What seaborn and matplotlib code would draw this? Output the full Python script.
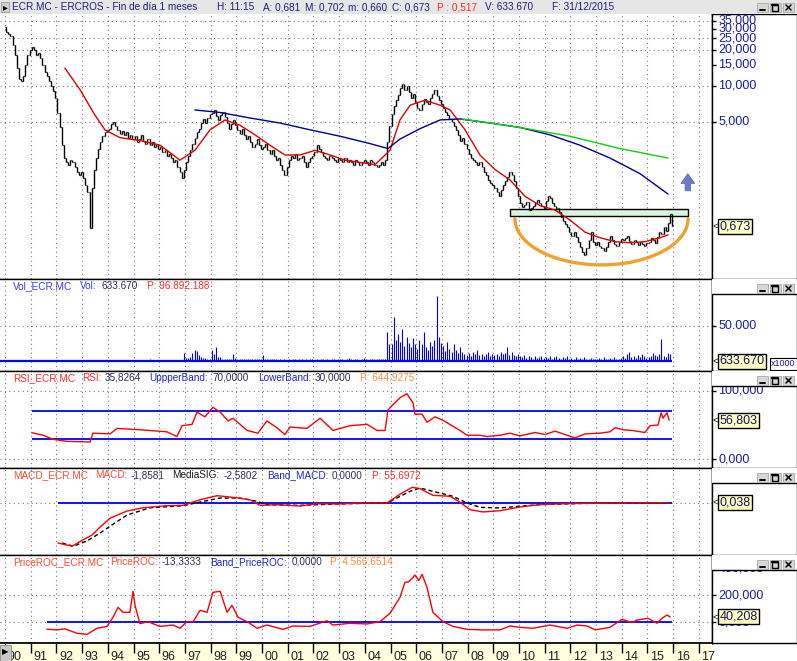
import matplotlib
matplotlib.use("Agg")
import matplotlib.pyplot as plt
from matplotlib.patches import Rectangle
import numpy as np
import seaborn as sns

# ---------------- values ----------------
years_axis = list(range(1990, 2018))
year_labels = [f"{y % 100:02d}" for y in years_axis]

first_open = 31.0
monthly_close = [
    28, 27, 26, 22, 18, 14, 11.5, 11, 12, 15, 18, 20,            # 1990
    21, 20, 18, 19, 17, 15, 13, 12, 11, 10, 9, 8,                # 1991
    6.0, 4.5, 3.2, 2.5, 2.3, 2.2, 2.4, 2.3, 2.1, 1.9, 1.8, 1.9,  # 1992
    1.7, 1.5, 1.3, 0.65, 1.4, 2.0, 2.5, 3.0, 3.4, 3.8, 4.1, 4.3, # 1993
    4.4, 4.8, 5.0, 4.6, 4.3, 4.0, 4.2, 3.9, 4.1, 3.7, 3.9, 3.6,  # 1994
    3.8, 3.4, 3.6, 3.9, 3.5, 3.3, 3.6, 3.2, 3.4, 3.1, 3.3, 3.0,  # 1995
    3.1, 2.8, 2.9, 2.6, 2.7, 2.5, 2.3, 2.4, 2.1, 1.9, 1.7, 2.0,  # 1996
    2.3, 2.6, 2.9, 3.3, 3.7, 4.1, 4.4, 4.9, 5.3, 4.9, 5.4, 5.8,  # 1997
    6.0, 6.3, 5.6, 5.2, 5.7, 6.1, 5.5, 4.9, 4.4, 4.8, 5.2, 4.7,  # 1998
    4.3, 4.0, 4.4, 3.9, 3.6, 3.8, 3.4, 3.1, 3.3, 3.6, 3.2, 3.0,  # 1999
    3.1, 3.3, 2.9, 2.7, 2.9, 2.6, 2.4, 2.5, 2.2, 2.0, 1.8, 2.1,  # 2000
    2.4, 2.6, 2.5, 2.7, 2.4, 2.5, 2.6, 2.3, 2.1, 2.3, 2.5, 2.6,  # 2001
    2.8, 3.2, 3.0, 2.8, 2.6, 2.5, 2.4, 2.6, 2.5, 2.4, 2.3, 2.5,  # 2002
    2.4, 2.3, 2.5, 2.3, 2.4, 2.3, 2.2, 2.4, 2.3, 2.2, 2.3, 2.4,  # 2003
    2.3, 2.2, 2.4, 2.3, 2.2, 2.1, 2.2, 2.3, 2.2, 2.4, 3.4, 4.6,  # 2004
    5.8, 6.8, 7.6, 8.4, 9.6, 10.4, 9.2, 9.9, 8.9, 8.0, 8.6, 7.4, # 2005
    6.6, 6.3, 7.0, 7.8, 7.4, 7.0, 7.9, 8.6, 9.2, 8.3, 7.7, 7.0,  # 2006
    6.6, 6.1, 5.7, 5.3, 5.0, 4.6, 4.3, 3.9, 3.5, 3.7, 3.3, 3.0,  # 2007
    2.7, 2.5, 2.4, 2.3, 2.2, 2.3, 2.1, 1.9, 1.8, 1.65, 1.55, 1.5,  # 2008
    1.4, 1.3, 1.2, 1.35, 1.5, 1.6, 1.75, 1.9, 1.8, 1.6, 1.4, 1.2,  # 2009
    1.05, 0.98, 1.02, 1.08, 0.92, 0.96, 1.0, 1.06, 1.12, 1.05, 1.0, 0.95,  # 2010
    1.1, 1.2, 1.15, 1.05, 1.0, 0.95, 0.88, 0.8, 0.74, 0.7, 0.66, 0.6,      # 2011
    0.56, 0.6, 0.55, 0.5, 0.45, 0.41, 0.39, 0.44, 0.52, 0.6, 0.5, 0.47,    # 2012
    0.5, 0.46, 0.44, 0.42, 0.45, 0.5, 0.56, 0.52, 0.48, 0.46, 0.5, 0.53,   # 2013
    0.52, 0.54, 0.56, 0.51, 0.48, 0.52, 0.5, 0.47, 0.5, 0.48, 0.46, 0.49,  # 2014
    0.5, 0.54, 0.52, 0.49, 0.55, 0.6, 0.58, 0.66, 0.62, 0.72, 0.86, 0.673, # 2015
]

# monthly volume, axis units (x1000)
monthly_volume = [
    0.5, 0.3, 0.4, 0.3, 0.2, 0.4, 0.3, 0.3, 0.2, 0.4, 0.5, 0.3,
    2.0, 1.8, 0.3, 0.2, 0.2, 0.3, 0.2, 0.2, 0.3, 0.2, 0.2, 0.3,
    0.3, 1.8, 2.0, 0.3, 0.2, 0.3, 0.2, 0.3, 0.2, 0.2, 0.3, 0.2,
    0.2, 0.3, 0.2, 0.3, 0.2, 0.3, 0.2, 0.3, 1.8, 2.2, 0.2, 0.3,
    1.8, 2.2, 2.0, 0.3, 0.2, 0.3, 0.3, 1.5, 0.3, 2.0, 1.8, 0.3,
    1.5, 0.3, 2.0, 2.2, 1.8, 2.0, 2.5, 3.0, 1.5, 2.0, 0.5, 1.8,
    0.3, 2.5, 0.3, 0.3, 2.0, 0.3, 1.8, 2.4, 0.3, 0.3, 1.8, 11.7,
    5, 5, 6, 12, 16, 15, 8.5, 6, 5, 5, 4, 4,
    16.5, 10, 19.7, 6, 6, 4, 4, 4, 4, 4, 10, 5,
    4, 3, 4, 3, 3, 4, 3, 3, 4, 3, 3, 4,
    9, 4, 3, 3, 4, 3, 3, 2, 3, 2, 3, 2,
    3, 2, 4, 3, 2, 3, 4, 2, 3, 2, 3, 4,
    2, 3, 2, 4, 3, 2, 3, 2, 4, 3, 2, 3,
    3, 4, 2, 3, 5, 3, 2, 3, 4, 2, 3, 5,
    3, 2, 3, 3, 4, 3, 3, 4, 3, 4, 41, 25,
    25, 62, 30, 38, 28, 45, 22, 35, 26, 20, 33, 24,
    18, 30, 24, 42, 20, 16, 28, 22, 30, 92, 35, 26,
    22, 15, 28, 18, 14, 24, 16, 12, 20, 14, 10, 9,
    12, 8, 14, 10, 16, 9, 11, 7, 10, 13, 8, 11,
    9, 11, 8, 14, 10, 12, 20, 9, 13, 9, 8, 10,
    8, 6, 9, 5, 7, 6, 4, 7, 5, 6, 8, 5,
    6, 5, 7, 4, 6, 8, 5, 4, 6, 5, 7, 4,
    5, 4, 6, 3, 5, 4, 6, 3, 4, 5, 3, 4,
    4, 5, 3, 6, 4, 3, 5, 4, 6, 3, 4, 5,
    7, 5, 10, 14, 6, 8, 5, 9, 6, 10, 7, 5,
    6, 8, 12, 9, 7, 10, 31, 8, 6, 12, 11, 0.63,
]

# moving averages (year, price)
ma_red = [(1992.33, 14.1), (1992.92, 9.3), (1993.50, 5.7), (1993.89, 4.3), (1994.47, 3.7),
          (1995.25, 3.5), (1996.03, 3.2), (1996.81, 2.4), (1997.39, 2.9), (1997.98, 4.3),
          (1998.56, 5.2), (1999.14, 4.7), (1999.73, 3.9), (2000.31, 3.2), (2000.89, 2.65),
          (2001.48, 2.65), (2002.06, 2.9), (2002.65, 2.65), (2003.23, 2.4), (2003.81, 2.3),
          (2004.40, 2.2), (2004.98, 2.9), (2005.37, 5.2), (2005.76, 6.9), (2006.34, 7.6),
          (2006.93, 6.9), (2007.32, 6.3), (2007.90, 4.3), (2008.48, 2.65), (2009.07, 2.0),
          (2009.65, 1.64), (2010.23, 1.2), (2010.82, 1.0), (2011.40, 0.92), (2011.98, 0.76),
          (2012.57, 0.6), (2013.15, 0.54), (2013.74, 0.50), (2014.32, 0.49), (2014.90, 0.50),
          (2015.49, 0.54), (2015.80, 0.57)]
ma_blue = [(1997.39, 6.3), (1998.37, 6.0), (1999.53, 5.4), (2000.70, 4.9), (2001.87, 4.3),
           (2003.04, 3.8), (2004.20, 3.3), (2004.90, 3.0), (2005.37, 3.6), (2006.15, 4.4),
           (2006.93, 5.2), (2007.70, 5.3), (2008.87, 4.9), (2010.04, 4.5), (2011.21, 3.9),
           (2012.37, 3.2), (2013.54, 2.5), (2014.71, 1.85), (2015.80, 1.25)]
ma_green = [(2007.78, 5.3), (2010.04, 4.5), (2011.98, 3.8), (2013.93, 3.0), (2015.80, 2.5)]

# drawn objects on the price panel
box_start, box_end, box_low, box_high = 2009.65, 2016.58, 0.82, 0.93
arc_left, arc_right, arc_top, arc_bottom = 2009.84, 2016.58, 0.78, 0.32
arrow_t, arrow_tail, arrow_tip = 2016.57, 1.33, 1.85

rsi_pts = [(1991.05, 38.7), (1991.48, 35), (1991.87, 29), (1992.41, 26), (1993.31, 25),
           (1993.42, 38), (1994.09, 37), (1994.36, 45), (1995.25, 43), (1996.30, 40),
           (1996.69, 33), (1996.89, 49), (1997.28, 51), (1997.47, 69), (1997.78, 62),
           (1998.09, 76), (1998.37, 69), (1998.68, 56), (1998.87, 60), (1999.42, 42),
           (1999.84, 38), (2000.19, 56), (2000.58, 46), (2000.89, 36), (2001.09, 47),
           (2001.75, 45), (2002.26, 60), (2002.76, 42), (2003.42, 49), (2004.09, 51),
           (2004.47, 42), (2004.79, 42), (2004.90, 72), (2005.10, 80), (2005.37, 90),
           (2005.64, 96), (2005.88, 82), (2005.95, 66), (2006.23, 66), (2006.42, 54),
           (2006.73, 62), (2007.04, 57), (2007.70, 42), (2007.98, 35), (2008.48, 35),
           (2008.75, 33), (2009.26, 35), (2009.65, 38), (2010.04, 34), (2010.62, 39),
           (2011.01, 36), (2011.40, 41), (2011.79, 36), (2012.18, 31), (2012.57, 37),
           (2013.15, 38), (2013.54, 40), (2013.74, 46), (2014.05, 43), (2014.40, 42),
           (2014.90, 39), (2015.10, 49), (2015.41, 50), (2015.53, 68), (2015.60, 60),
           (2015.76, 68), (2015.84, 57)]
rsi_bands = [70, 30]

macd_pts = [(1992.06, -5.0), (1992.61, -5.4), (1993.04, -4.6), (1993.39, -4.0), (1993.70, -3.0),
            (1994.09, -1.9), (1994.75, -1.0), (1995.37, -0.6), (1996.30, -0.34), (1996.93, -0.29),
            (1997.59, 0.41), (1998.25, 0.91), (1998.87, 0.71), (1999.53, 0.41), (1999.92, -0.29),
            (2000.58, -0.21), (2001.48, -0.38), (2002.14, -0.09), (2003.04, -0.12), (2003.81, 0.0),
            (2004.86, 0.0), (2005.37, 1.1), (2005.84, 1.96), (2006.15, 1.79), (2006.65, 0.96),
            (2007.32, 0.84), (2007.70, 0.12), (2008.09, -0.84), (2008.60, -1.12), (2009.26, -0.96),
            (2010.04, -0.5), (2010.82, -0.2), (2011.60, -0.1), (2012.37, -0.05), (2013.15, -0.02),
            (2013.93, 0.0), (2014.71, 0.02), (2015.49, 0.03), (2015.80, 0.05)]
signal_pts = [(1992.22, -5.0), (1992.65, -5.4), (1993.19, -4.75), (1993.70, -3.75), (1994.09, -2.9),
              (1994.75, -1.5), (1995.64, -0.6), (1996.93, -0.34), (1997.59, 0.12), (1998.37, 0.62),
              (1999.14, 0.62), (1999.81, 0.21), (2000.19, -0.21), (2001.48, -0.29), (2003.04, -0.1),
              (2004.86, 0.0), (2005.76, 1.46), (2006.15, 1.87), (2006.65, 1.46), (2007.43, 0.84),
              (2007.98, 0.0), (2008.48, -0.54), (2009.26, -0.62), (2010.04, -0.4), (2010.82, -0.2),
              (2012.37, -0.06), (2013.93, -0.01), (2015.80, 0.02)]

roc_pts = [(1991.63, -51), (1992.02, -56), (1992.33, -48), (1992.80, -81), (1993.19, -89),
           (1993.58, -44), (1993.97, -30), (1994.20, 37), (1994.40, 111), (1994.59, 74),
           (1994.86, 74), (1994.98, 230), (1995.06, 126), (1995.25, -10), (1995.56, 5),
           (1996.03, -30), (1996.54, -20), (1996.81, -44), (1997.08, 5), (1997.32, 5),
           (1997.59, 89), (1997.86, 74), (1998.09, 222), (1998.37, 230), (1998.64, 74),
           (1998.83, 126), (1999.07, 37), (1999.42, 5), (1999.81, -44), (2000.19, -20),
           (2000.82, -52), (2001.21, -27), (2001.87, -30), (2002.53, 12), (2002.76, -20),
           (2003.42, -7), (2004.09, -12), (2004.59, 5), (2004.98, 67), (2005.37, 185),
           (2005.56, 296), (2005.70, 300), (2005.88, 333), (2005.95, 350), (2006.10, 310),
           (2006.23, 355), (2006.42, 259), (2006.65, 74), (2007.04, 5), (2007.43, -30),
           (2007.98, -52), (2008.60, -56), (2009.26, -56), (2009.65, -27), (2010.04, -37),
           (2010.54, -44), (2011.21, -20), (2011.87, -44), (2012.26, -20), (2012.65, -27),
           (2012.96, -56), (2013.54, -37), (2014.01, 22), (2014.40, -2), (2014.59, 17),
           (2015.02, 30), (2015.37, -7), (2015.56, 30), (2015.76, 54), (2015.88, 40)]

main_ticks = [35, 30, 25, 20, 15, 10, 5]
main_grid = [35, 25, 20, 10, 5]
vol_ticks = [100, 50]
rsi_ticks = [100, 0]
roc_ticks = [400, 200, 0]

header_segments = [(12, "ECR.MC - ERCROS - Fin de día 1 meses", "navy"),
                   (217, "H: 11:15", "navy"), (263, "A: 0,681", "navy"),
                   (305, "M: 0,702", "navy"), (348, "m: 0,660", "navy"),
                   (392, "C: 0,673", "navy"), (437, "P : 0,517", "red"),
                   (485, "V: 633.670", "navy"), (552, "F: 31/12/2015", "navy")]
vol_header = [(13, "Vol_ECR.MC", "blue"), (80, "Vol:", "blue"), (102, "633.670", "dark"),
              (147, "P: 96.892.188", "red")]
rsi_header = [(13, "RSI_ECR.MC", "red"), (82, "RSI:", "red"), (105, "35,8264", "dark"),
              (149, "UppperBand:", "blue2"), (213, "70,0000", "dark"),
              (258, "LowerBand:", "blue2"), (313, "30,0000", "dark"),
              (360, "P: 644,9275", "orange")]
macd_header = [(13, "MACD_ECR.MC", "red2"), (95, "MACD:", "red2"), (125, "-1,8581", "dark"),
               (172, "MediaSIG:", "black"), (224, "-2,5802", "dark"),
               (267, "Band_MACD:", "blue2"), (325, "0,0000", "dark"), (372, "P: 55,6972", "red")]
roc_header = [(13, "PriceROC_ECR.MC", "red2"), (110, "PriceROC:", "red2"), (162, "-13,3333", "dark"),
              (210, "Band_PriceROC:", "blue2"), (292, "0,0000", "dark"),
              (330, "P: 4.566,6514", "orange")]

# ---------------- style / layout ----------------
COLORS = {"navy": "#1e1e78", "red": "#ff2a2a", "red2": "#ff4a30", "blue": "#3c3cff",
          "blue2": "#2424cc", "dark": "#2e2e55", "black": "#1a1a1a", "orange": "#ff8a3c"}
LABEL_C = "#1c1ca8"
GRID = dict(color="#777777", linewidth=0.8, linestyle=(0, (1, 3)))

sns.set_theme(style="white")
plt.rcParams["font.family"] = ["Liberation Sans", "DejaVu Sans"]

W, H = 797, 661
X0, X1 = 1989.805, 2017.51
fig = plt.figure(figsize=(W / 100, H / 100), dpi=100)


def add_px(x0, y0, x1, y1, **kw):
    return fig.add_axes([x0 / W, 1 - y1 / H, (x1 - x0) / W, (y1 - y0) / H], **kw)


def style_panel(ax, top=True):
    ax.set_facecolor("white")
    ax.set_xlim(X0, X1)
    for name, sp in ax.spines.items():
        sp.set_color("black")
        sp.set_linewidth(1)
        sp.set_visible(name != "left" and (top or name != "top"))
    ax.set_xticks(years_axis)
    ax.grid(False)
    ax.grid(True, axis="x", which="major", **GRID)
    ax.tick_params(axis="both", which="both", length=0, labelbottom=False,
                   labelleft=False, labelright=False)
    ax.set_xlabel("")
    ax.set_ylabel("")


def label_box(ax, y0, y1, gap=0):
    # same pixel height as its panel so the shared y scale lines up
    lab = add_px(712, y0, 797, y1, sharey=ax)
    lab.set_xlim(0, 1)
    lab.set_facecolor("white")
    for sp in lab.spines.values():
        sp.set_visible(True)
        sp.set_color("black")
        sp.set_linewidth(1)
    lab.set_xticks([])
    lab.grid(False)
    lab.tick_params(axis="both", which="both", length=0, labelleft=False, labelbottom=False)
    if gap:
        f = 1 - gap / (y1 - y0)
        lab.spines["top"].set_visible(False)
        lab.add_patch(Rectangle((0, f), 1, 1 - f, transform=lab.transAxes, fc="white",
                                ec="none", zorder=10))
        lab.plot([0, 1], [f, f], transform=lab.transAxes, color="black", lw=1, zorder=11)
    return lab


def put_ticks(lab, values, texts):
    for v, s in zip(values, texts):
        lab.hlines(v, 0, 0.05, color="black", lw=1)
        lab.text(0.075, v, s, va="center", ha="left", fontsize=9, color=LABEL_C, clip_on=True)


def put_tag(lab, v, s):
    lab.text(0.01, v, "<", va="center", ha="left", fontsize=6.5, color="black", zorder=6)
    lab.text(0.09, v, s, va="center", ha="left", fontsize=9, color="#141460", zorder=7,
             bbox=dict(boxstyle="square,pad=0.12", fc="#ffffc4", ec="black", lw=1))


t_month = np.array([1990 + (i + 0.5) / 12 for i in range(len(monthly_close))])
closes = np.array(monthly_close)
opens = np.concatenate([[first_open], closes[:-1]])

# ---------------- price panel ----------------
ax = add_px(0, 14, 712, 279)
ax.set_yscale("log")
ax.set_ylim(0.244, 39.9)
style_panel(ax, top=False)
for v in main_grid:
    ax.axhline(v, zorder=0.5, **GRID)

ax.add_patch(Rectangle((box_start, box_low), box_end - box_start, box_high - box_low,
                       fc="#dcf3dc", ec="black", lw=1, zorder=1.5))
ax.vlines(t_month, np.minimum(opens, closes), np.maximum(opens, closes), color="black", lw=1.0, zorder=2)
ax.hlines(opens, t_month - 0.035, t_month, color="black", lw=0.9, zorder=2)
ax.hlines(closes, t_month, t_month + 0.035, color="black", lw=0.9, zorder=2)

for pts, col in [(ma_red, "#e00000"), (ma_blue, "#000090"), (ma_green, "#10d010")]:
    tt, pp = zip(*pts)
    sns.lineplot(x=list(tt), y=list(pp), ax=ax, color=col, lw=1, sort=False,
                 estimator=None, legend=False, zorder=3)

theta = np.linspace(0, np.pi, 80)
arc_c, arc_a = (arc_left + arc_right) / 2, (arc_right - arc_left) / 2
arc_x = arc_c - arc_a * np.cos(theta)
arc_y = np.exp(np.log(arc_top) - (np.log(arc_top) - np.log(arc_bottom)) * np.sin(theta))
ax.plot(arc_x, arc_y, color="#f0a030", lw=2.4, solid_capstyle="round", zorder=4)
ax.annotate("", xy=(arrow_t, arrow_tip), xytext=(arrow_t, arrow_tail),
            arrowprops=dict(arrowstyle="simple,head_length=0.7,head_width=1.0,tail_width=0.4",
                            fc="#6b79cf", ec="#5b66b8", lw=0.5, shrinkA=0, shrinkB=0,
                            mutation_scale=10), zorder=5)
ax.set_xlabel("")
ax.set_ylabel("")

lab = label_box(ax, 14, 279)
put_ticks(lab, main_ticks, [f"{v:.3f}".replace(".", ",") for v in main_ticks])
put_tag(lab, monthly_close[-1], f"{monthly_close[-1]:.3f}".replace(".", ","))

# ---------------- volume panel ----------------
axv = add_px(0, 279, 712, 371)
axv.set_ylim(-13.4, 116)
style_panel(axv)
axv.axhline(50, zorder=0.5, **GRID)
axv.vlines(t_month, 0, monthly_volume, color="#0000ff", lw=0.8, zorder=2)
axv.hlines(0, X0, t_month[-1], color="#0000ff", lw=1.6, zorder=3)
labv = label_box(axv, 279, 371, gap=15)
put_ticks(labv, vol_ticks, [f"{v * 1000:,.0f}".replace(",", ".") for v in vol_ticks])
put_tag(labv, monthly_volume[-1], "633.670")
labv.text(0.985, 0.03, "x1000", transform=labv.transAxes, ha="right", va="bottom", fontsize=6.5,
          color=LABEL_C, bbox=dict(boxstyle="square,pad=0.15", fc="white", ec="black", lw=0.8))

# ---------------- RSI panel ----------------
axr = add_px(0, 371, 712, 468)
axr.set_ylim(-13.2, 129.4)
style_panel(axr)
for v in rsi_ticks:
    axr.axhline(v, zorder=0.5, **GRID)
rt, rv = zip(*rsi_pts)
axr.hlines(rsi_bands, rt[0], t_month[-1], color="#0000ff", lw=1.3, zorder=2)
sns.lineplot(x=list(rt), y=list(rv), ax=axr, color="#ff0000", lw=1, sort=False,
             estimator=None, legend=False, zorder=3)
style_panel(axr)
labr = label_box(axr, 371, 468, gap=15)
put_ticks(labr, rsi_ticks, [f"{v:.3f}".replace(".", ",") for v in rsi_ticks])
put_tag(labr, rv[-1] - 0.2, "56,803")

# ---------------- MACD panel ----------------
axm = add_px(0, 468, 712, 555)
axm.set_ylim(-6.5, 4.375)
style_panel(axm)
axm.axhline(0, zorder=0.5, **GRID)
mt, mv = zip(*macd_pts)
st, sv = zip(*signal_pts)
axm.hlines(0, mt[0], t_month[-1], color="#0000ff", lw=1.3, zorder=2)
sns.lineplot(x=list(st), y=list(sv), ax=axm, color="black", lw=1, sort=False,
             estimator=None, legend=False, zorder=3, linestyle=(0, (3, 2)))
sns.lineplot(x=list(mt), y=list(mv), ax=axm, color="#ff0000", lw=1, sort=False,
             estimator=None, legend=False, zorder=4)
style_panel(axm)
labm = label_box(axm, 468, 555, gap=15)
put_tag(labm, 0.038, "0,038")

# ---------------- PriceROC panel ----------------
axp = add_px(0, 555, 712, 643)
axp.set_ylim(-153, 498.5)
style_panel(axp)
for v in [200, 0]:
    axp.axhline(v, zorder=0.5, **GRID)
pt, pv = zip(*roc_pts)
axp.hlines(0, pt[0], t_month[-1], color="#0000ff", lw=1.3, zorder=2)
sns.lineplot(x=list(pt), y=list(pv), ax=axp, color="#ff0000", lw=1, sort=False,
             estimator=None, legend=False, zorder=3)
style_panel(axp)
labp = label_box(axp, 555, 643, gap=15)
put_ticks(labp, roc_ticks, [f"{v:.3f}".replace(".", ",") for v in roc_ticks])
put_tag(labp, pv[-1], "40,208")

# ---------------- time band ----------------
axb = add_px(0, 643, 712, 661, sharex=ax)
axb.set_facecolor("#ffffe0")
axb.set_ylim(0, 1)
for name, sp in axb.spines.items():
    sp.set_visible(name == "top")
    sp.set_color("black")
axb.tick_params(axis="both", which="both", length=0, labelbottom=False, labelleft=False)
axb.grid(False)
axb.vlines(years_axis, 0.45, 1, color="black", lw=1)
for yr, s in zip(years_axis, year_labels):
    axb.annotate(s, xy=(yr, 0), xycoords="data", xytext=(2.5, 1.5), textcoords="offset pixels",
                 ha="left", va="baseline", fontsize=9, color="#202020")

# ---------------- window chrome ----------------
deco = fig.add_axes([0, 0, 1, 1], zorder=20)
deco.set_xlim(0, W)
deco.set_ylim(H, 0)
deco.axis("off")
deco.patch.set_alpha(0)
deco.add_patch(Rectangle((0, 0), W, 14, fc="#e6e6e6", ec="none"))
deco.add_patch(Rectangle((1, 2), 8, 10, fc="#d2d2d2", ec="#9a9a9a", lw=0.6))
deco.text(5, 7.5, "▸", ha="center", va="center", fontsize=7, color="black")

renderer = fig.canvas.get_renderer()


def header_line(segs, yc, size):
    # segments start at their read-off x, but never run into the previous one
    end = -1e9
    for x, s, c in segs:
        x = max(x, end + 3)
        t = deco.text(x, yc, s, ha="left", va="center", fontsize=size, color=COLORS[c])
        end = x + t.get_window_extent(renderer=renderer).width


header_line(header_segments, 7.5, 7.2)
for seg, yc in [(vol_header, 286), (rsi_header, 378), (macd_header, 475), (roc_header, 562)]:
    header_line(seg, yc, 7.2)


def buttons(ytop):
    for i in range(3):
        x = 757 + 13 * i
        deco.add_patch(Rectangle((x, ytop), 11, 9, fc="#d6d6d6", ec="#a8a8a8", lw=0.6))
        if i == 0:
            deco.plot([x + 3, x + 8], [ytop + 7, ytop + 7], color="black", lw=1.4)
        elif i == 1:
            deco.add_patch(Rectangle((x + 2.5, ytop + 1.5), 6, 6, fill=False, ec="black", lw=1))
            deco.plot([x + 2.5, x + 8.5], [ytop + 2, ytop + 2], color="black", lw=1.6)
        else:
            deco.plot([x + 3, x + 8], [ytop + 2, ytop + 7], color="black", lw=1.1)
            deco.plot([x + 3, x + 8], [ytop + 7, ytop + 2], color="black", lw=1.1)


for ytop in [3, 284, 376, 473, 560]:
    buttons(ytop)

deco.add_patch(Rectangle((0, 645), 11, 16, fc="#c8c8c8", ec="#8a8a8a", lw=0.6))
deco.text(5.5, 653, "▶", ha="center", va="center", fontsize=6, color="black")

fig.savefig("out.png", dpi=100)
